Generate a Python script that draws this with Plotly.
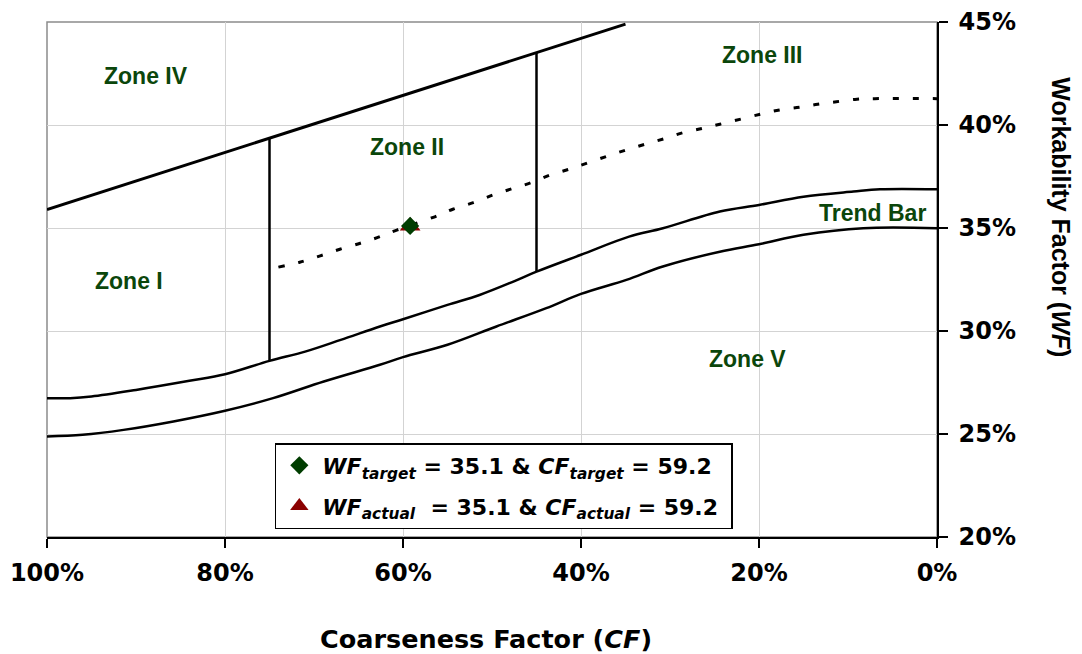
import plotly.graph_objects as go

# ---------------- data ----------------
# Upper boundary of Zone II (straight line)
upper_cf = [100, 35]
upper_wf = [35.9, 44.9]

# Zone II vertical dividers: CF, top WF, bottom WF
divider_cf = [75, 45]
divider_top_wf = [39.35, 43.5]
divider_bot_wf = [28.55, 32.88]

# Trend bar – upper edge
trend_up_cf = [100, 97.4, 95, 90, 84, 80, 75, 71, 67, 62.6, 60, 55, 51.4, 47.6, 45,
               40, 34.6, 30.8, 24.4, 20, 15, 9.4, 6.4, 0]
trend_up_wf = [26.74, 26.74, 26.82, 27.14, 27.58, 27.9, 28.55, 29.0, 29.57, 30.22, 30.57,
               31.27, 31.75, 32.4, 32.88, 33.7, 34.58, 34.99, 35.8, 36.12, 36.52, 36.77,
               36.88, 36.88]

# Trend bar – lower edge
trend_lo_cf = [100, 96, 91.4, 85.8, 80, 74.6, 68.9, 62.6, 60, 55, 49.5, 43.9, 40, 34.9,
               30.8, 24.4, 20, 15, 8.3, 0]
trend_lo_wf = [24.88, 24.96, 25.2, 25.61, 26.13, 26.74, 27.55, 28.36, 28.73, 29.33, 30.22,
               31.11, 31.8, 32.48, 33.13, 33.85, 34.21, 34.67, 34.99, 34.99]

# Zone II / Zone III boundary (dotted)
dot_cf = [74, 71.6, 69.3, 67.1, 64.8, 62.9, 60.7, 56.6, 54.4, 52.1, 49.9, 47.8, 45.6, 43.4,
          41.2, 39.2, 36.9, 34.9, 32.7, 30.6, 28.5, 26.3, 24.4, 22, 19.7, 17.7, 15.4, 13.4,
          11.3, 9, 7, 0]
dot_wf = [33.1, 33.34, 33.65, 33.97, 34.26, 34.53, 34.9, 35.52, 35.91, 36.23, 36.6, 36.9,
          37.2, 37.58, 37.87, 38.17, 38.51, 38.79, 39.08, 39.34, 39.63, 39.84, 40.04, 40.29,
          40.54, 40.73, 40.86, 41.01, 41.13, 41.25, 41.28, 41.28]

# Mix points
target_cf = [59.2]
target_wf = [35.1]
actual_cf = [59.2]
actual_wf = [35.1]

x_ticks = [100, 80, 60, 40, 20, 0]
x_tick_labels = ["100%", "80%", "60%", "40%", "20%", "0%"]
y_ticks = [20, 25, 30, 35, 40, 45]
y_tick_labels = ["20%", "25%", "30%", "35%", "40%", "45%"]

zone_names = ["Zone IV", "Zone II", "Zone III", "Zone I", "Zone V", "Trend Bar"]
zone_cf = [88.9, 59.55, 19.57, 90.76, 21.25, 7.2]
zone_wf = [42.38, 38.94, 43.41, 32.43, 28.66, 35.74]

# ---------------- figure ----------------
fig = go.Figure()

fig.add_trace(go.Scatter(x=upper_cf, y=upper_wf, mode="lines",
                         line=dict(color="black", width=3), showlegend=False,
                         hoverinfo="skip"))
for cf, top, bot in zip(divider_cf, divider_top_wf, divider_bot_wf):
    fig.add_trace(go.Scatter(x=[cf, cf], y=[top, bot], mode="lines",
                             line=dict(color="black", width=2.5), showlegend=False,
                             hoverinfo="skip"))
fig.add_trace(go.Scatter(x=trend_up_cf, y=trend_up_wf, mode="lines",
                         line=dict(color="black", width=2.5, shape="spline", smoothing=1.0),
                         showlegend=False, hoverinfo="skip"))
fig.add_trace(go.Scatter(x=trend_lo_cf, y=trend_lo_wf, mode="lines",
                         line=dict(color="black", width=2.5, shape="spline", smoothing=1.0),
                         showlegend=False, hoverinfo="skip"))
fig.add_trace(go.Scatter(x=dot_cf, y=dot_wf, mode="lines",
                         line=dict(color="black", width=3, dash="6px,14px",
                                   shape="spline", smoothing=1.0),
                         showlegend=False, hoverinfo="skip"))

legend_font = dict(family="DejaVu Sans", size=22, color="black", weight="bold")
fig.add_trace(go.Scatter(
    x=actual_cf, y=actual_wf, mode="markers",
    marker=dict(symbol="triangle-up", size=18, color="#8b0000"),
    name="<i>WF</i><sub><i>actual</i></sub>&nbsp; = 35.1 &amp; <i>CF</i><sub><i>actual</i></sub> = 59.2&nbsp;",
    legendgroup="b", legendrank=2))
fig.add_trace(go.Scatter(
    x=target_cf, y=target_wf, mode="markers",
    marker=dict(symbol="diamond", size=14, color="#003d00"),
    name="<i>WF</i><sub><i>target</i></sub> = 35.1 &amp; <i>CF</i><sub><i>target</i></sub> = 59.2&nbsp;",
    legendgroup="a", legendrank=1))

for name, cf, wf in zip(zone_names, zone_cf, zone_wf):
    fig.add_annotation(x=cf, y=wf, xref="x", yref="y", text=name, showarrow=False,
                       xanchor="center", yanchor="middle",
                       font=dict(family="Liberation Sans", size=23, color="#0b460b",
                                 weight="bold"))

fig.add_annotation(x=0.493, y=-0.199, xref="paper", yref="paper",
                   xanchor="center", yanchor="middle",
                   text="Coarseness Factor (<i>CF</i>)", showarrow=False,
                   font=dict(family="DejaVu Sans", size=25.5, color="black", weight="bold"))
fig.add_annotation(x=1.140, y=0.6216, xref="paper", yref="paper", textangle=90,
                   xanchor="center", yanchor="middle",
                   text="Workability Factor (<i>WF</i>)", showarrow=False,
                   font=dict(family="Liberation Sans", size=25, color="black", weight="bold"))

# plot area border (grey top/left)
fig.add_shape(type="rect", xref="paper", yref="paper", x0=0, y0=0, x1=1, y1=1,
              line=dict(color="#8c8c8c", width=1.5), layer="below")

tick_font = dict(family="DejaVu Sans", size=24, color="black", weight="bold")
fig.update_xaxes(range=[100, 0], tickvals=x_ticks, ticktext=x_tick_labels,
                 showgrid=True, gridcolor="#d3d3d3", gridwidth=1, zeroline=False,
                 showline=True, linecolor="black", linewidth=1.5,
                 ticks="outside", ticklen=9, tickwidth=1.5, tickcolor="black",
                 tickfont=tick_font, ticklabelstandoff=4, fixedrange=True)
fig.update_yaxes(range=[20, 45], tickvals=y_ticks, ticktext=y_tick_labels, side="right",
                 showgrid=True, gridcolor="#d3d3d3", gridwidth=1, zeroline=False,
                 showline=True, linecolor="black", linewidth=1.5,
                 ticks="outside", ticklen=9, tickwidth=1.5, tickcolor="black",
                 tickfont=tick_font, ticklabelstandoff=6, fixedrange=True)

fig.update_layout(
    width=1074, height=646,
    margin=dict(l=39, r=145, t=14, b=117, autoexpand=False),
    paper_bgcolor="white", plot_bgcolor="white",
    showlegend=True,
    legend=dict(x=0.256, y=0.1824, xanchor="left", yanchor="top",
                bgcolor="white", bordercolor="black", borderwidth=1.5,
                font=legend_font, tracegroupgap=9, traceorder="grouped",
                itemsizing="trace", itemwidth=36),
    hovermode=False,
)

fig.write_html("out.html")
